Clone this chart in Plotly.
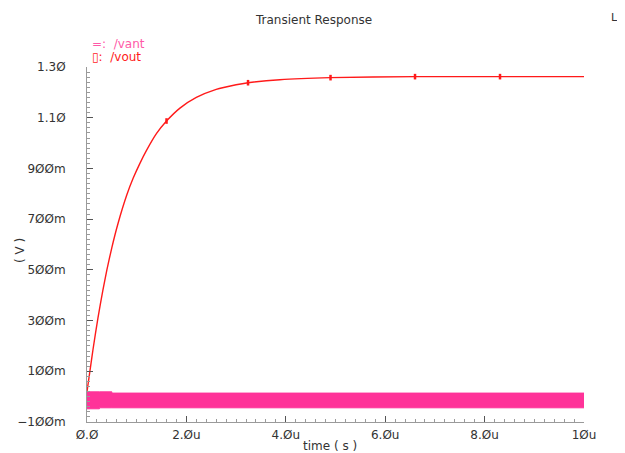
import plotly.graph_objects as go

# ---- data (time in microseconds, voltage in volts) ----
vout_t = [0.0, 0.04, 0.08, 0.12, 0.22, 0.32, 0.40, 0.50, 0.62, 0.80, 0.93, 1.06, 1.20, 1.40, 1.60, 1.87,
          2.20, 2.60, 3.00, 3.24, 3.88, 4.89, 6.60, 8.30, 10.0]
vout_v = [0.020, 0.075, 0.130, 0.185, 0.310, 0.420, 0.500, 0.588, 0.680, 0.795, 0.862, 0.918, 0.972, 1.038,
          1.087, 1.138, 1.180, 1.212, 1.230, 1.238, 1.250, 1.258, 1.262, 1.262, 1.262]

vout_mark_t = [1.60, 3.24, 4.90, 6.60, 8.31]
vout_mark_v = [1.087, 1.238, 1.258, 1.262, 1.262]

vant_t = [0.0, 0.25, 0.50, 10.0]
vant_hi = [0.019, 0.019, 0.014, 0.014]
vant_lo = [-0.048, -0.044, -0.044, -0.044]

x_tickvals = [0, 2, 4, 6, 8, 10]
x_ticktext = ["Ø.Ø", "2.Øu", "4.Øu", "6.Øu", "8.Øu", "1Øu"]
y_tickvals = [-0.1, 0.1, 0.3, 0.5, 0.7, 0.9, 1.1, 1.3]
y_ticktext = ["−1ØØm", "1ØØm", "3ØØm", "5ØØm", "7ØØm", "9ØØm", "1.1Ø", "1.3Ø"]

PINK = "#ff3399"
RED = "#ff1a1a"
FONT = "DejaVu Sans"

# the page body has an 8px margin, so the figure is sized/offset to compensate
OFF = 8
W, H = 625 - OFF, 453 - OFF
L, R, T, B = 87 - OFF, 41, 67 - OFF, 31

fig = go.Figure()

# vant: high-frequency signal shown as its filled envelope
fig.add_trace(go.Scatter(x=vant_t, y=vant_hi, mode="lines", line=dict(color=PINK, width=1, shape="hv"),
                         showlegend=False, hoverinfo="skip"))
fig.add_trace(go.Scatter(x=vant_t, y=vant_lo, mode="lines", line=dict(color=PINK, width=1, shape="hv"),
                         fill="tonexty", fillcolor=PINK, showlegend=False, hoverinfo="skip"))

# vout
fig.add_trace(go.Scatter(x=vout_t, y=vout_v, mode="lines",
                         line=dict(color=RED, width=1.4, shape="spline", smoothing=0.5),
                         showlegend=False))
fig.add_trace(go.Scatter(x=vout_mark_t, y=vout_mark_v, mode="markers",
                         marker=dict(symbol="line-ns", size=4, line=dict(color=RED, width=2.5)),
                         showlegend=False, cliponaxis=False))

fig.update_layout(
    width=W, height=H,
    margin=dict(l=L, r=R, t=T, b=B, autoexpand=False),
    paper_bgcolor="white", plot_bgcolor="white",
    font=dict(family=FONT, size=12, color="#333333"),
    xaxis=dict(range=[0, 10], tickvals=x_tickvals, ticktext=x_ticktext, automargin=False,
               showline=True, linecolor="#9a9a9a", linewidth=1, mirror=False,
               ticks="inside", ticklen=6, tickcolor="#555555", tickwidth=1,
               minor=dict(ticks="inside", ticklen=3, dtick=0.2, tick0=0, tickcolor="#9a9a9a"),
               showgrid=False, zeroline=False, ticklabelstandoff=2,
               tickfont=dict(family=FONT, size=12, color="#333333")),
    yaxis=dict(range=[-0.1, 1.3], tickvals=y_tickvals, ticktext=y_ticktext, automargin=False,
               showline=True, linecolor="#9a9a9a", linewidth=1, mirror=False,
               ticks="inside", ticklen=6, tickcolor="#555555", tickwidth=1,
               minor=dict(ticks="inside", ticklen=3, dtick=0.02, tick0=-0.1, tickcolor="#9a9a9a"),
               showgrid=False, zeroline=False, ticklabelstandoff=18,
               tickfont=dict(family=FONT, size=12, color="#333333")),
    annotations=[
        dict(text="Transient Response", x=313, y=20, showarrow=False,
             font=dict(family=FONT, size=12, color="#333333")),
        dict(text="=:  /vant", x=90, y=44, showarrow=False, xanchor="left",
             font=dict(family=FONT, size=12, color="#ff5aa8")),
        dict(text="▯:  /vout", x=90, y=57, showarrow=False, xanchor="left",
             font=dict(family=FONT, size=12, color=RED)),
        dict(text="time ( s )", x=330, y=446, showarrow=False,
             font=dict(family=FONT, size=12, color="#333333")),
        dict(text="( V )", x=11, y=251, showarrow=False, textangle=-90,
             font=dict(family=FONT, size=12, color="#333333")),
        dict(text="Ⅼ", x=620, y=18, showarrow=False,
             font=dict(family=FONT, size=11, color="#333333")),
    ],
)

# Convert screen-pixel-placed annotations into paper coordinates
pw, ph = W - L - R, H - T - B
for a in fig.layout.annotations:
    a.xref = "paper"
    a.yref = "paper"
    px, py = a.x - OFF, a.y - OFF
    a.x = (px - L) / pw
    a.y = 1 - (py - T) / ph
    a.yanchor = "middle"

fig.write_html("out.html")
